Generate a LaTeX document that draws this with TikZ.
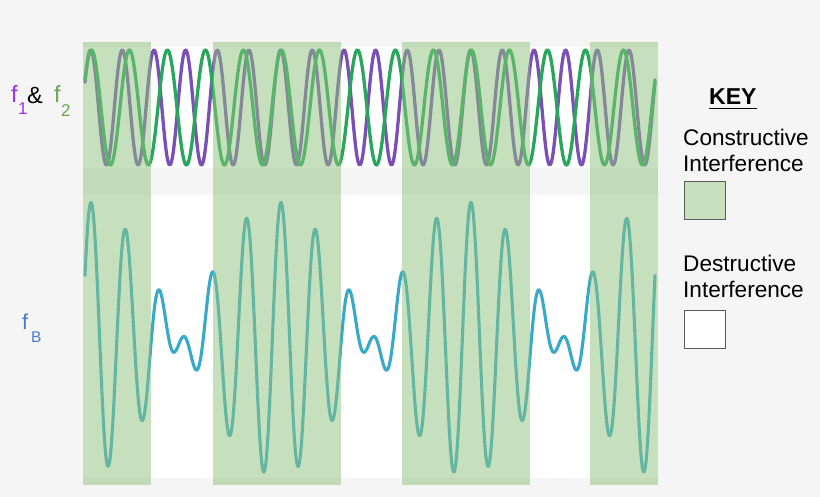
\documentclass[tikz,border=0pt]{standalone}
\usepackage{fontspec}
\setmainfont{Liberation Sans}
\definecolor{bg}{RGB}{245,245,245}
\definecolor{overlay}{RGB}{143,195,125}
\definecolor{keygreen}{RGB}{199,225,190}
\definecolor{wpurple}{RGB}{122,80,180}
\definecolor{wgreen}{RGB}{40,166,92}
\definecolor{wteal}{RGB}{58,168,200}
\definecolor{lblpurple}{RGB}{155,50,230}
\definecolor{lblgreen}{RGB}{106,168,79}
\definecolor{lblblue}{RGB}{70,120,215}
\definecolor{boxborder}{RGB}{90,90,90}
\tikzset{
  wave/.style={line width=3.3pt, line join=round, line cap=round},
  band/.style={fill=overlay, fill opacity=0.5, draw=none},
  lbl/.style={inner sep=0pt, anchor=base west},
  keytext/.style={inner sep=0pt, anchor=base west, font=\fontsize{22.6}{26}\selectfont},
  keybox/.style={draw=boxborder, line width=1.2pt},
}
\begin{document}
\begin{tikzpicture}[x=1pt,y=-1pt]
\useasboundingbox (0,0) rectangle (820,497);
\fill[bg] (0,0) rectangle (820,497);
% panels
\fill[white] (83,47) rectangle (658,168);
\fill[white] (83,195) rectangle (658,478);
% f1 and f2
\draw[wave, wpurple] plot[domain=85:655, samples=700, smooth, variable=\t]
  (\t, {107.5-57.5*cos(10.42119*(\t-281)+0.947368*(\t-276.5))});
\draw[wave, wgreen] plot[domain=85:655, samples=700, smooth, variable=\t]
  (\t, {107.5-57.5*cos(10.42119*(\t-281)-0.947368*(\t-276.5))});
% beat
\draw[wave, wteal, line width=3.1pt] plot[domain=85:655, samples=900, smooth, variable=\t]
  (\t, {338.5-136.6*cos(10.42119*(\t-281))*cos(0.947368*(\t-276.5))});
% constructive bands
\fill[band] (83,42) rectangle (151,485);
\fill[band] (213,42) rectangle (341,485);
\fill[band] (402,42) rectangle (530,485);
\fill[band] (590,42) rectangle (658,485);
% left labels
\node[lbl, text=lblpurple, font=\fontsize{23.5}{23.5}\selectfont] (fone) at (11,103) {f};
\node[lbl, text=lblpurple, font=\fontsize{17}{17}\selectfont] (fonesub) at (18,115) {1};
\node[lbl, font=\fontsize{23.5}{23.5}\selectfont] (amp) at (27,104) {\&};
\node[lbl, text=lblgreen, font=\fontsize{23.5}{23.5}\selectfont] (ftwo) at (54,103) {f};
\node[lbl, text=lblgreen, font=\fontsize{17}{17}\selectfont] (ftwosub) at (61,117) {2};
\node[lbl, text=lblblue, font=\fontsize{21.5}{21.5}\selectfont] (fb) at (22,330) {f};
\node[lbl, text=lblblue, font=\fontsize{15.5}{15.5}\selectfont] (fbsub) at (31,342) {B};
% key
\node[keytext, font=\fontsize{23}{26}\selectfont\bfseries] (key) at (709,105) {KEY};
\draw[line width=1.6pt] ([yshift=-3.5pt]key.south west) -- ([yshift=-3.5pt]key.south east);
\node[keytext] (con1) at (683,146) {Constructive};
\node[keytext] (con2) at (683,172) {Interference};
\node[keybox, fill=keygreen, minimum width=41pt, minimum height=38pt, anchor=north west, inner sep=0pt] (conbox) at (684,181) {};
\node[keytext] (des1) at (683,272) {Destructive};
\node[keytext] (des2) at (683,298) {Interference};
\node[keybox, fill=white, minimum width=41pt, minimum height=38pt, anchor=north west, inner sep=0pt] (desbox) at (684,310) {};
\end{tikzpicture}
\end{document}
